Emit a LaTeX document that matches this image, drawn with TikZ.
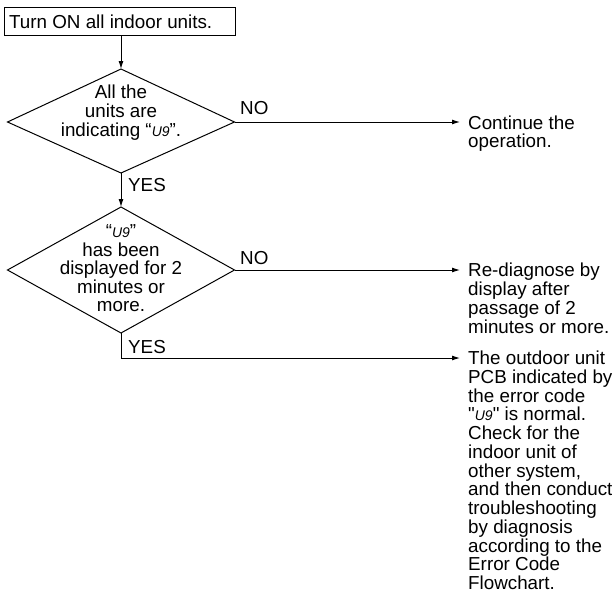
\documentclass[tikz,border=0pt]{standalone}
\usepackage{fontspec}
\setmainfont{Liberation Sans}
\usetikzlibrary{arrows.meta}
\newcommand{\segcode}{{\fontsize{14}{14}\selectfont\itshape U9}}
\newcommand{\ctrline}[1]{\hbox to 0pt{\hss #1\hss}}
\tikzset{
  every node/.style={inner sep=0pt, font=\fontsize{18.8}{18.8}\selectfont},
  conn/.style={line width=1pt},
  arr/.style={conn, -{Latex[length=8pt,width=5pt]}},
  shape line/.style={line width=1pt},
  lbl/.style={anchor=base west},
}
\begin{document}
\begin{tikzpicture}[x=1pt,y=-1pt]
\useasboundingbox (0,0) rectangle (612,592);
% start box
\node (start) [draw, line width=1pt, minimum width=231pt, minimum height=28pt, anchor=north west] at (4,7) {};
\node (starttxt) [lbl] at (9,28) {Turn ON all indoor units.};
% diamond 1
\coordinate (d1t) at (121,69);
\coordinate (d1r) at (234.5,122);
\coordinate (d1b) at (121,173);
\coordinate (d1l) at (7.5,122);
\draw[shape line] (d1t) -- (d1r) -- (d1b) -- (d1l) -- cycle;
\node (d1txt) [anchor=base] at (121,98) {\vtop{\baselineskip=19pt\lineskiplimit=-20pt
  \ctrline{All the}\ctrline{units are}\ctrline{indicating \textquotedblleft\segcode\textquotedblright.}}};
% diamond 2
\coordinate (d2t) at (121,207);
\coordinate (d2r) at (234.5,270);
\coordinate (d2b) at (121,333);
\coordinate (d2l) at (7.5,270);
\draw[shape line] (d2t) -- (d2r) -- (d2b) -- (d2l) -- cycle;
\node (d2txt) [anchor=base] at (121,237.5) {\vtop{\baselineskip=18.5pt\lineskiplimit=-20pt
  \ctrline{\textquotedblleft\segcode\textquotedblright}\ctrline{has been}\ctrline{displayed for 2}\ctrline{minutes or}\ctrline{more.}}};
% end points
\coordinate (e1) at (460,122);
\coordinate (e2) at (460,270);
\coordinate (e3) at (460,358);
\coordinate (turn) at (121,358);
% connectors
\draw[arr] (start.south -| d1t) -- (d1t);
\draw[arr] (d1b) -- (d2t);
\draw[arr] (d1r) -- (e1);
\draw[arr] (d2r) -- (e2);
\draw[arr] (d2b) -- (turn) -- (e3);
% labels
\node (no1) [lbl] at (240,114.5) {NO};
\node (yes1) [lbl] at (128,191.5) {YES};
\node (no2) [lbl] at (240,264.5) {NO};
\node (yes2) [lbl] at (128,353) {YES};
% results
\node (r1) [anchor=base west] at (468,129) {\vtop{\baselineskip=18.9pt\lineskiplimit=-20pt
  \hbox{Continue the}\hbox{operation.}}};
\node (r2) [anchor=base west] at (468,276.5) {\vtop{\baselineskip=18.9pt\lineskiplimit=-20pt
  \hbox{Re-diagnose by}\hbox{display after}\hbox{passage of 2}\hbox{minutes or more.}}};
\node (r3) [anchor=base west] at (468,364.5) {\vtop{\baselineskip=18.75pt\lineskiplimit=-20pt
  \hbox{The outdoor unit}\hbox{PCB indicated by}\hbox{the error code}\hbox{\textquotedbl\segcode\textquotedbl\ is normal.}\hbox{Check for the}\hbox{indoor unit of}\hbox{other system,}\hbox{and then conduct}\hbox{troubleshooting}\hbox{by diagnosis}\hbox{according to the}\hbox{Error Code}\hbox{Flowchart.}}};
\end{tikzpicture}
\end{document}
